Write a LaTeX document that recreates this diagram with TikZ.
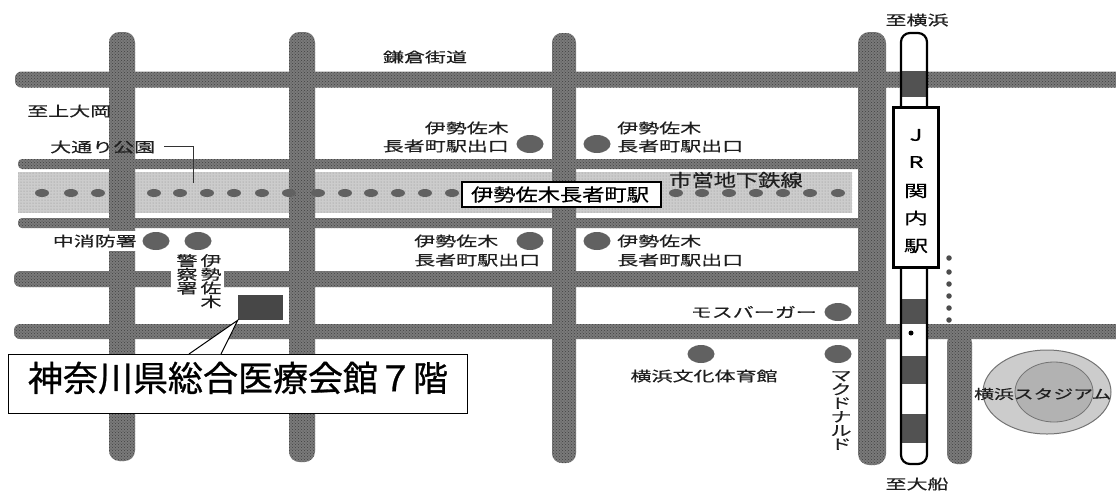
\documentclass[tikz,border=0pt]{standalone}
\usepackage{fontspec}
\usetikzlibrary{patterns,shapes.geometric}
\newfontfamily\jpS[FakeStretch=1.5,FakeBold=0.5]{Noto Sans CJK JP}
\newfontfamily\jpM[FakeStretch=1.27,FakeBold=0.6]{Noto Sans CJK JP}
\newfontfamily\jpL[FakeBold=0.8]{Noto Sans CJK JP}
\definecolor{roadgray}{gray}{0.48}
\definecolor{bandgray}{gray}{0.80}
\definecolor{spotgray}{gray}{0.38}
\definecolor{inkgray}{gray}{0.12}
\newcommand{\roadV}[4]{\path[roadstyle,rounded corners=#4*0.4] ({#1-#4/2},#2) rectangle ({#1+#4/2},#3);}
\newcommand{\roadH}[4]{\path[roadstyle,rounded corners=#4*0.4] (#2,{#1-#4/2}) rectangle (#3,{#1+#4/2});}
\tikzset{
  roadstyle/.style={preaction={fill=roadgray},pattern=crosshatch dots,pattern color=black!75},
  smalltxt/.style={font=\jpS\fontsize{14}{13.7}\selectfont,text=inkgray,inner sep=0pt,align=center},
  midtxt/.style={font=\jpM\fontsize{17.5}{18}\selectfont,text=black,inner sep=0pt},
  jrtxt/.style={font=\jpS\fontsize{16}{16}\selectfont,inner sep=0pt},
  spot/.style={ellipse,fill=spotgray,minimum width=27pt,minimum height=18pt,inner sep=0pt},
  stationdot/.style={ellipse,fill=spotgray,minimum width=14pt,minimum height=8pt,inner sep=0pt},
  tinydot/.style={circle,fill=black!70,minimum size=5.5pt,inner sep=0pt},
  darkband/.style={fill=black!68},
}
\begin{document}
\begin{tikzpicture}[x=1pt,y=-1pt]
\useasboundingbox (0,0) rectangle (1116,491);
\clip (0,0) rectangle (1116,491);
% horizontal roads
\roadH{79.5}{15}{1130}{16}
\roadH{164}{18}{870}{10}
\roadH{223}{18}{870}{10}
\roadH{279}{14}{870}{16}
\roadH{331.5}{14}{1130}{15}
% subway band
\path[fill=bandgray,pattern=dots,pattern color=black!45,preaction={fill=bandgray}] (18,172) rectangle (852,213);
% vertical roads
\roadV{122}{32}{461}{26}
\roadV{302}{32}{462}{26}
\roadV{564}{33}{463}{24}
\roadV{872}{32}{465}{28}
\roadV{959.5}{333}{464}{25}
% white gaps for labels
\fill[white] (109,231) rectangle (135.5,251);
\fill[white] (171,269) rectangle (224,289);
% railway
\path[fill=white,rounded corners=9] (901,33) rectangle (927,464);
\fill[darkband] (901,71) rectangle (927,97);
\fill[darkband] (901,299) rectangle (927,324);
\fill[darkband] (901,356) rectangle (927,384);
\fill[darkband] (901,414) rectangle (927,443);
\draw[black,line width=2.2pt,rounded corners=9] (901,33) rectangle (927,464);
\node[circle,fill=black,minimum size=5pt,inner sep=0pt] (raildot) at (911,333) {};
% station box
\node[draw=black,line width=2.2pt,fill=white,minimum width=45pt,minimum height=160pt,inner sep=0pt] (jr) at (916,187.5) {};
\node[jrtxt] (jrJ) at (916,135) {J};
\node[jrtxt] (jrR) at (916,162) {R};
\node[jrtxt] (jrA) at (916,191) {関};
\node[jrtxt] (jrB) at (916,218) {内};
\node[jrtxt] (jrC) at (916,246) {駅};
% east small dots
\foreach \i/\yy in {a/258,b/272,c/284,d/296,e/308,f/320}{\node[tinydot] (e\i) at (949,\yy) {};}
% stadium
\path[fill=bandgray,draw=black!55,line width=1pt] (1047,392) ellipse [x radius=64,y radius=42];
\path[fill=gray!60,draw=black!55,line width=.8pt] (1054,392) ellipse [x radius=39,y radius=30];
\node[smalltxt,font=\jpS\fontsize{13.2}{13.7}\selectfont,anchor=west] (stadium) at (974,394) {横浜スタジアム};
% subway stations
\foreach \i/\xx in {1/42,2/71,3/98,4/154,5/180,6/207,7/234,8/262,9/289,10/318,11/345,12/371,13/398,14/425,15/452,16/676,17/702,18/729,19/756,20/783,21/810,22/838}{\node[stationdot] (st\i) at (\xx,193) {};}
\node[draw=black,line width=1.4pt,fill=white,minimum width=199pt,minimum height=25pt,inner sep=0pt] (isezaki) at (561.5,194.5) {};
\node[midtxt] (isezakit) at (560,194.5) {伊勢佐木長者町駅};
\node[midtxt,text=inkgray] (subway) at (736,180) {市営地下鉄線};
% spots
\node[spot] (s1) at (530,144) {};
\node[spot] (s2) at (597,144) {};
\node[spot] (s3) at (156,241) {};
\node[spot] (s4) at (198,241) {};
\node[spot] (s5) at (530,241) {};
\node[spot] (s6) at (597,241) {};
\node[spot] (s7) at (838,312) {};
\node[spot] (s8) at (701,354) {};
\node[spot] (s9) at (838,354) {};
% small labels
\node[smalltxt] (toyoko) at (917,20) {至横浜};
\node[smalltxt] (kama) at (425,57) {鎌倉街道};
\node[smalltxt,anchor=west] (kami) at (27,111) {至上大岡};
\node[smalltxt,anchor=west] (odori) at (50,147) {大通り公園};
\coordinate (odoriC) at (164,146);
\coordinate (odoriE) at (193,183);
\draw[black!80,line width=.9pt] (odoriC) -| (odoriE);
\node[smalltxt,anchor=east] (l1a) at (509,128) {伊勢佐木};
\node[smalltxt,anchor=east] (l1b) at (509,146) {長者町駅出口};
\node[smalltxt,anchor=west] (l2a) at (617,128) {伊勢佐木};
\node[smalltxt,anchor=west] (l2b) at (617,146) {長者町駅出口};
\node[smalltxt,anchor=east] (naka) at (137,241) {中消防署};
\node[smalltxt,anchor=west] (l3a) at (414,241) {伊勢佐木};
\node[smalltxt,anchor=west] (l3b) at (414,260) {長者町駅出口};
\node[smalltxt,anchor=west] (l4a) at (617,241) {伊勢佐木};
\node[smalltxt,anchor=west] (l4b) at (617,260) {長者町駅出口};
\node[smalltxt,anchor=north] (kei) at (187,254) {警\\察\\署};
\node[smalltxt,anchor=north] (isev) at (211,254) {伊\\勢\\佐\\木};
\node[smalltxt,anchor=east] (mos) at (817,312) {モスバーガー};
\node[smalltxt] (bunka) at (704,376) {横浜文化体育館};
\node[smalltxt,anchor=north] (mcd) at (841,371) {マ\\ク\\ド\\ナ\\ル\\ド};
\node[smalltxt] (ofuna) at (917,484) {至大船};
% building and callout
\node[fill=black!72,minimum width=45pt,minimum height=25pt,inner sep=0pt] (bldg) at (260.5,307.5) {};
\node[draw=black,line width=1pt,fill=white,minimum width=459pt,minimum height=59pt,inner sep=0pt] (hall) at (237.5,383.5) {};
\node[font=\jpL\fontsize{35}{35}\selectfont,inner sep=0pt] (hallt) at (238,378) {神奈川県総合医療会館７階};
\coordinate (ca) at (189,354);
\coordinate (cb) at (221,354);
\fill[white] (bldg.south west) -- (ca) -- (cb) -- cycle;
\draw[black,line width=1pt] (ca) -- (bldg.south west) -- (cb);
\end{tikzpicture}
\end{document}
